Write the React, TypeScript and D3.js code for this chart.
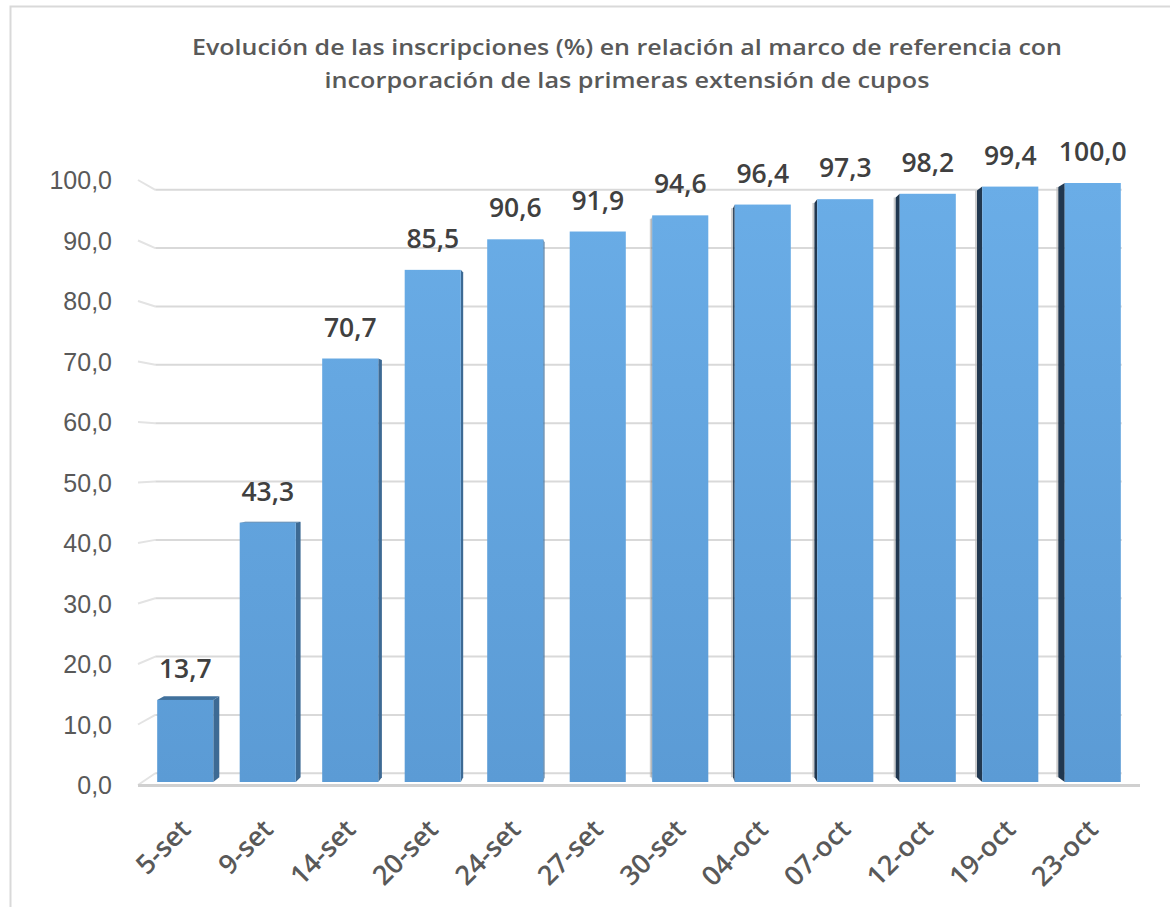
import React from 'react';
import * as d3 from 'd3';

const categories = ['5-set', '9-set', '14-set', '20-set', '24-set', '27-set', '30-set', '04-oct', '07-oct', '12-oct', '19-oct', '23-oct'];
const values = [13.7, 43.3, 70.7, 85.5, 90.6, 91.9, 94.6, 96.4, 97.3, 98.2, 99.4, 100.0];
const yTicks = [0, 10, 20, 30, 40, 50, 60, 70, 80, 90, 100];
const titleLines = [
  'Evolución de las inscripciones (%) en relación al marco de referencia con',
  'incorporación de las primeras extensión de cupos',
];

const W = 1170;
const H = 907;
const VP = { x: 625, y: 455 };
const TW = 0.0355; // wall depth
const TB = 0.0146; // bar depth
const FONT = '"Liberation Sans", Arial, sans-serif';
const FONT2 = '"Open Sans", "Liberation Sans", sans-serif';

const fmt = (v: number) => d3.format('.1f')(v).replace('.', ',');
const proj = (x: number, y: number, t: number): [number, number] => [x + (VP.x - x) * t, y + (VP.y - y) * t];
const pts = (p: [number, number][]) => p.map((q) => q.join(',')).join(' ');

export default function App() {
  const x = d3.scaleBand<string>().domain(categories).range([138, 1140]).paddingInner(0.32).paddingOuter(0.2325);
  const yBar = d3.scaleLinear().domain([0, 100]).range([782, 183]);
  const yWall = d3.scaleLinear().domain([0, 100]).range([785, 180]);
  const bw = x.bandwidth();
  const wallL = 138;
  const wallR = 1140;

  return (
    <svg width={W} height={H} style={{ position: 'absolute', left: 0, top: 0, background: '#fff' }}>
      <defs>
        <linearGradient id="barGrad" gradientUnits="userSpaceOnUse" x1="0" y1={yBar(0)} x2="0" y2={yBar(100)}>
          <stop offset="0" stopColor="#5b9bd5" />
          <stop offset="1" stopColor="#6aade7" />
        </linearGradient>
      </defs>
      <rect x={0} y={0} width={W} height={H} fill="#fff" />
      <rect x={10.5} y={6.5} width={1200} height={1000} fill="none" stroke="#d9d9d9" strokeWidth={2} />

      {titleLines.map((t, i) => (
        <text
          key={i}
          x={627}
          y={i === 0 ? 55 : 88}
          textAnchor="middle"
          fontFamily={FONT2}
          fontWeight={600}
          fontSize={21}
          fill="#595959"
          textLength={i === 0 ? 870 : 605}
          lengthAdjust="spacingAndGlyphs"
        >
          {t}
        </text>
      ))}

      {/* gridlines on back wall with side-wall slants */}
      {yTicks.map((v) => {
        const [bxL, byL] = proj(wallL, yWall(v), TW);
        const [bxR] = proj(wallR, yWall(v), TW);
        return (
          <g key={v}>
            <line x1={wallL} y1={yWall(v)} x2={bxL} y2={byL} stroke="#e3e3e3" strokeWidth={2} />
            <line x1={bxL} y1={byL} x2={bxR} y2={byL} stroke="#d9d9d9" strokeWidth={2} />
          </g>
        );
      })}
      {/* floor front edge */}
      <line x1={wallL} y1={yWall(0) + 0.5} x2={wallR} y2={yWall(0) + 0.5} stroke="#d0d0d0" strokeWidth={3} />

      {/* y tick labels */}
      {yTicks.map((v) => (
        <text key={v} x={112} y={yWall(v)} textAnchor="end" dominantBaseline="central" fontFamily={FONT} fontSize={25} fill="#595959">
          {fmt(v)}
        </text>
      ))}

      {/* bars */}
      {categories.map((c, i) => {
        const v = values[i];
        const x0 = x(c) as number;
        const x1 = x0 + bw;
        const yT = yBar(v);
        const yB = yBar(0);
        const faces: React.ReactNode[] = [];
        if (x1 < VP.x) {
          faces.push(
            <polygon key="sr" points={pts([[x1, yT], proj(x1, yT, TB), proj(x1, yB, TB), [x1, yB]])} fill="#3d6a94" />
          );
        }
        if (x0 > VP.x) {
          const s = proj(x0, yT, TB);
          const sb = proj(x0, yB, TB);
          faces.push(
            <polygon key="sh" points={pts([[s[0] - 2, s[1]], [s[0], s[1]], [sb[0], sb[1]], [sb[0] - 2, sb[1]]])} fill="#b8b8b8" opacity={0.7} />
          );
          faces.push(<polygon key="sl" points={pts([[x0, yT], s, sb, [x0, yB]])} fill="#213850" />);
        }
        if (yT > VP.y) {
          faces.push(
            <polygon key="top" points={pts([[x0, yT], [x1, yT], proj(x1, yT, TB), proj(x0, yT, TB)])} fill="#41719c" />
          );
        }
        return (
          <g key={c}>
            {faces}
            <rect x={x0} y={yT} width={bw} height={yB - yT} fill="url(#barGrad)" />
            <text x={x0 + bw / 2} y={yT - 22} textAnchor="middle" fontFamily={FONT2} fontWeight={600} fontSize={26.5} fill="#404040">
              {fmt(v)}
            </text>
          </g>
        );
      })}

      {/* x labels */}
      {categories.map((c) => {
        const cx = (x(c) as number) + bw / 2 + 7;
        return (
          <text key={c} transform={`translate(${cx},831) rotate(-45)`} textAnchor="end" fontFamily={FONT2} fontWeight={600} fontSize={27} fill="#595959">
            {c}
          </text>
        );
      })}
    </svg>
  );
}
